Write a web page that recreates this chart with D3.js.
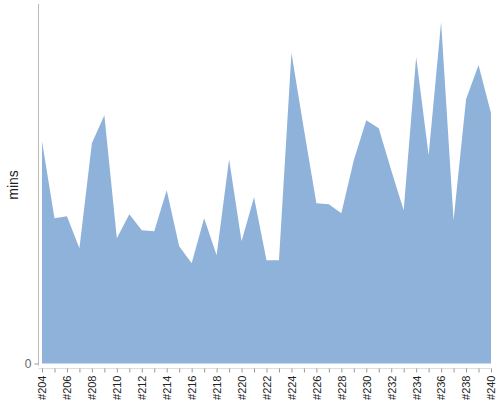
<!DOCTYPE html>
<html>
<head>
<meta charset="utf-8">
<script src="https://cdn.jsdelivr.net/npm/d3@7"></script>
<style>
  body { margin: 0; background: #fff; }
  svg { display: block; font-family: "Liberation Sans", Arial, sans-serif; }
</style>
</head>
<body>
<div id="container"></div>
<script>
// build labels #204 .. #240
const builds = ['#204','#205','#206','#207','#208','#209','#210','#211','#212','#213',
  '#214','#215','#216','#217','#218','#219','#220','#221','#222','#223','#224','#225',
  '#226','#227','#228','#229','#230','#231','#232','#233','#234','#235','#236','#237',
  '#238','#239','#240'];
// duration in minutes per build
const mins = [22.2, 14.5, 14.7, 11.5, 22.0, 24.8, 12.5, 14.9, 13.3, 13.2,
  17.3, 11.7, 10.0, 14.5, 10.8, 20.4, 12.2, 16.6, 10.3, 10.3, 31.0, 23.4,
  16.0, 15.9, 15.0, 20.3, 24.3, 23.5, 19.3, 15.3, 30.6, 20.8, 34.1, 14.3,
  26.4, 29.8, 25.0];
const yTicks = [0];

const width = 500, height = 400;
const margin = { top: 4, right: 9, bottom: 37, left: 42 };

const data = builds.map((b, i) => ({ label: b, value: mins[i] }));

const xScale = d3.scalePoint()
    .domain(builds)
    .range([margin.left, width - margin.right]);
const yScale = d3.scaleLinear()
    .domain([0, 35.9])
    .range([height - margin.bottom + 0.5, margin.top]);

const area = d3.area()
    .x(d => xScale(d.label))
    .y0(yScale(0))
    .y1(d => yScale(d.value));

const svg = d3.select('#container')
    .append('svg')
    .attr('width', width)
    .attr('height', height);

svg.append('path')
    .datum(data)
    .attr('fill', '#8fb2da')
    .attr('d', area);

// y axis
const yAxis = svg.append('g')
    .attr('transform', 'translate(38.5,0)')
    .call(d3.axisLeft(yScale).tickValues(yTicks).tickSize(4).tickPadding(3));
yAxis.select('.domain')
    .attr('stroke', '#bbb')
    .attr('d', `M0,${margin.top}V${yScale(0) + 2}`);
yAxis.selectAll('.tick line').attr('stroke', '#999');
yAxis.selectAll('.tick text')
    .attr('fill', '#666')
    .style('font-size', '12px');

// x axis
const xAxis = svg.append('g')
    .attr('transform', 'translate(0,368.5)')
    .call(d3.axisBottom(xScale).tickSize(4).tickPadding(4)
        .tickFormat((d, i) => i % 2 === 0 ? d : ''));
xAxis.select('.domain')
    .attr('stroke', '#ddd')
    .attr('d', `M38.5,0H${width - margin.right}`);
xAxis.selectAll('.tick line').attr('stroke', '#999');
xAxis.selectAll('.tick text')
    .attr('fill', '#222')
    .style('font-size', '11px')
    .attr('text-anchor', 'end')
    .attr('dy', '0.35em')
    .attr('transform', 'rotate(-90)')
    .attr('x', -7)
    .attr('y', 0);

svg.append('text')
    .attr('transform', 'translate(18,185) rotate(-90)')
    .attr('text-anchor', 'middle')
    .attr('fill', '#222')
    .style('font-size', '14px')
    .text('mins');
</script>
</body>
</html>
